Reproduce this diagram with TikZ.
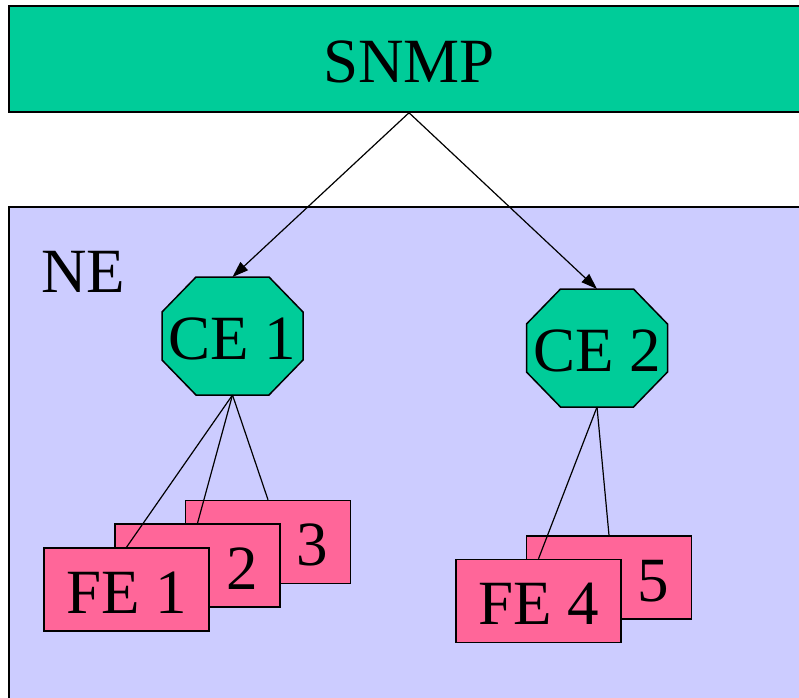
\documentclass[tikz,border=0pt]{standalone}
\usepackage{fontspec}
\setmainfont{Liberation Serif}
\usetikzlibrary{arrows.meta,calc,backgrounds}
\definecolor{SnmpGreen}{HTML}{00CC99}
\definecolor{NeLilac}{HTML}{CCCCFF}
\definecolor{FePink}{HTML}{FF6699}
\newcommand{\diagfont}{\fontsize{63}{70}\selectfont}

\begin{document}
\begin{tikzpicture}[
  x=1pt, y=1pt,
  bigtext/.style={font=\diagfont, text height=47pt, text depth=0pt, inner sep=0pt},
  snmpbox/.style={bigtext, draw, line width=1.5pt, fill=SnmpGreen, minimum width=800pt, minimum height=106pt},
  cebox/.style={bigtext, minimum width=141pt, minimum height=118pt, outer sep=0pt},
  octagon/.style={draw, line width=1.5pt, fill=SnmpGreen},
  febox/.style={bigtext, draw, line width=1.5pt, fill=FePink, minimum width=165pt, minimum height=83pt},
  arr/.style={-{Triangle[length=16pt,width=11pt]}, line width=1.2pt},
  link/.style={line width=1.2pt}
]
\clip (0,0) rectangle (799,697);
\node[snmpbox] (snmp) at (409,638) {SNMP};
\node[anchor=base west, inner sep=0pt, font=\diagfont] (ne) at (41,405) {NE};
\node[cebox] (ce1) at (232.5,361) {CE 1};
\node[cebox] (ce2) at (597,349) {CE 2};
\node[febox] (fe3) at (268,155) {FE 3};
\node[febox] (fe2) at (197.5,131.5) {FE 2};
\node[febox] (fe1) at (126.5,107.5) {FE 1};
\node[febox] (fe5) at (609,119.5) {FE 5};
\node[febox] (fe4) at (538.5,96) {FE 4};
\begin{scope}[on background layer]
  \draw[line width=1.5pt, fill=NeLilac] (9,490) rectangle (830,-40);
  \foreach \c in {ce1,ce2}
    \draw[octagon] ($(\c.north west)+(34,0)$) -- ($(\c.north east)+(-34,0)$)
      -- ($(\c.north east)+(0,-35)$) -- ($(\c.south east)+(0,35)$)
      -- ($(\c.south east)+(-34,0)$) -- ($(\c.south west)+(34,0)$)
      -- ($(\c.south west)+(0,35)$) -- ($(\c.north west)+(0,-35)$) -- cycle;
\end{scope}
\draw[arr] (snmp.south) -- (ce1.north);
\draw[arr] (snmp.south) -- (ce2.north);
\draw[link] (ce1.south) -- (fe1.north);
\draw[link] (ce1.south) -- (fe2.north);
\draw[link] (ce1.south) -- (fe3.north);
\draw[link] (ce2.south) -- (fe4.north);
\draw[link] (ce2.south) -- (fe5.north);
\end{tikzpicture}
\end{document}
